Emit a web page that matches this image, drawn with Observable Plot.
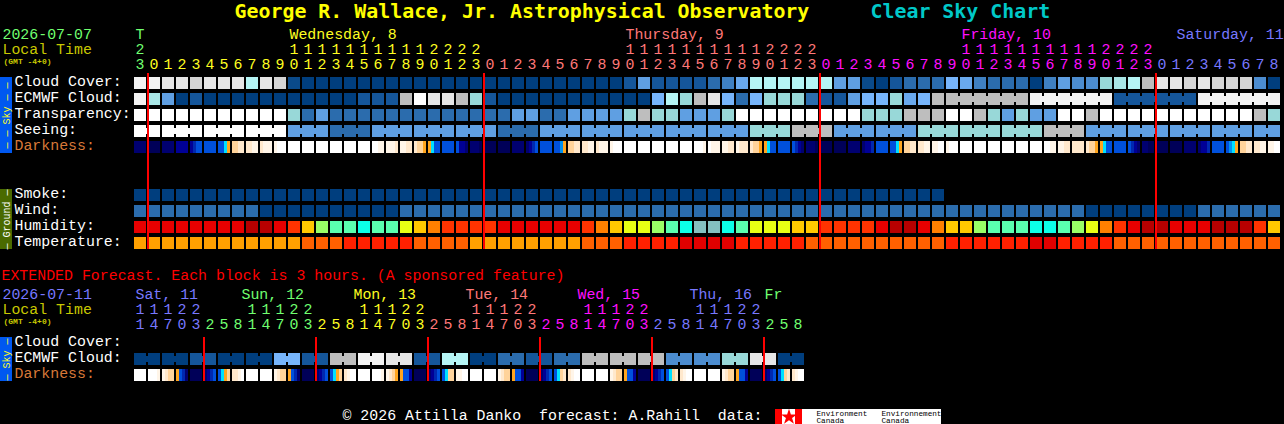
<!DOCTYPE html>
<html>
<head>
<meta charset="utf-8">
<style>
html,body{margin:0;padding:0;background:#000;overflow:hidden}
svg{display:block}
</style>
<script src="https://cdn.jsdelivr.net/npm/d3@7"></script>
<script src="https://cdn.jsdelivr.net/npm/@observablehq/plot@0.6"></script>
</head>
<body>
<div id="chart"></div>
<script>
// ---------- Data ----------
const hourLabels = ["23","0","1","2","3","4","5","6","7","8","9","10","11","12","13","14","15","16","17","18","19","20","21","22","23",
  "0","1","2","3","4","5","6","7","8","9","10","11","12","13","14","15","16","17","18","19","20","21","22","23",
  "0","1","2","3","4","5","6","7","8","9","10","11","12","13","14","15","16","17","18","19","20","21","22","23",
  "0","1","2","3","4","5","6","7","8"];
const cloudCover = [95,95,90,90,85,90,90,90,70,90,85,5,
  0,0,0,0,0,0,0,0,0,0,0,0,0,0,0,0,0,0,0,0,0,0,0,
  10,40,10,10,10,10,20,30,45,70,70,70,70,70,70,40,40,5,0,10,20,20,20,50,45,30,20,20,20,0,30,40,35,35,60,65,70,80,90,90,85,90,85,85,85,35,0];
const ecmwfCloud = [95,65,40,0,10,0,0,0,0,0,0,0,0,0,0,0,10,10,10,80,100,90,90,80,60,10,
  0,0,0,0,0,0,0,0,0,0,0,50,70,60,80,90,50,20,50,60,60,60,20,10,10,40,50,50,60,45,50,80,
  80,80,80,80,80,80,95,95,95,95,95,95,10,10,10,10,10,10,95,95,95,95,95,95];
const transparency = [100,100,100,100,100,100,100,100,100,100,100,60,20,40,20,20,20,20,20,20,20,20,20,20,20,20,20,40,40,20,20,40,40,40,40,60,80,60,60,40,40,40,60,
  100,100,100,100,100,100,100,100,100,60,60,60,80,80,80,100,100,80,60,40,60,40,40,100,100,80,
  100,100,100,100,100,100,100,100,100,100,100,80,60];
const seeing = [100,100,100,100,100,100,100,100,100,100,100,40,40,40,20,20,20,40,40,40,40,40,40,40,40,40,20,20,20,
  40,40,40,40,40,40,40,40,40,40,40,40,40,40,40,60,60,60,80,80,80,40,40,40,40,40,40,60,60,60,60,60,60,60,60,60,80,80,80,
  40,40,40,40,40,40,40,40,40,40,40,40,40,40];
const darkness = ["aaaa","bbbb","aaaa","9999","9877","7777","7754","3322","2211","2111","1000","0000","0000","0000","0000","0000","0000","0011","1112","1122","2334","4577","7777","799a","aaab",
  "bbbb","bbbb","aaaa","a987","7777","7764","3322","2211","2111","1000","0000","0000","0000","0000","0000","0001","0111","1122","1222","2334","4577","7777","789a","aaab",
  "bbbb","bbbb","aaaa","a998","7777","7754","3322","2211","1100","1000","0000","0000","0000","0000","0000","0000","0011","1122","2222","2334","4577","7777","789a","aabb",
  "bbbb","bbbb","aaaa","a998","7777","7654","3322","2211","1100"];
const smoke = [0,0,0,0,0,0,0,0,0,0,0,0,0,0,0,0,0,0,0,0,0,0,0,0,0,0,0,0,0,0,0,0,0,0,0,0,0,0,0,0,0,0,0,0,0,0,0,0,0,0,0,0,0,0,0,0,0,0];
const wind = [20,20,20,20,20,20,20,20,20,0,0,0,0,0,0,0,0,0,0,
  20,20,20,20,20,20,20,20,20,20,20,20,20,20,20,20,20,20,20,20,20,20,20,20,20,20,20,20,20,20,20,20,20,20,20,20,20,20,20,20,20,20,20,20,20,20,20,20,20,
  0,0,0,0,0,0,0,0,20,20,20,20,20,20];
const humidity = [85,85,85,85,85,85,85,85,95,95,85,75,65,55,50,50,45,50,50,60,65,70,75,75,75,75,85,85,85,85,85,85,75,70,65,60,60,55,50,45,40,40,45,50,60,60,60,65,65,75,75,75,75,85,95,95,85,70,65,65,55,50,50,50,45,45,50,55,60,70,75,85,95,95,85,85,85,95,95,95,75,65];
const temperature = [19,19,19,19,19,19,19,19,19,19,19,19,23,23,23,27,27,27,27,27,23,23,23,23,19,19,19,19,19,19,19,19,23,23,23,27,27,27,27,31,31,31,31,27,27,27,27,27,23,23,23,23,23,23,23,23,23,23,27,27,27,27,27,27,31,31,27,27,27,27,23,23,23,23,23,23,23,23,23,23,23,23];

const extHourLabels = ["11","14","17","20","23","2","5","8","11","14","17","20","23","2","5","8","11","14","17","20","23","2","5","8","11","14","17","20","23","2","5","8","11","14","17","20","23","2","5","8","11","14","17","20","23","2","5","8"];
const extEcmwfPairs = [0,0,10,0,0,50,10,80,95,90,10,70,0,20,10,20,80,80,80,35,35,60,90,0];
const extDarkness = ["0000","0001","1233","478a","bbbb","a987","7543","2210","0000","0000","1233","478a","bbbb","a987","7543","2100","0000","0001","1234","4779","bbbb","a987","7533","1100",
  "0000","0000","1233","4779","bbbb","a987","7532","2100","0000","0000","1233","4779","bbbb","a987","7532","2100","0000","0000","1233","4779","bbbb","a987","7532","2100"];

const dayHeads = [
  {px:135, text:"T", color:"#70ff70"},
  {px:289, text:"Wednesday, 8", color:"#ffff20"},
  {px:625, text:"Thursday, 9", color:"#ff7878"},
  {px:961, text:"Friday, 10", color:"#ff10ff"},
  {px:1176, text:"Saturday, 11", color:"#7878ff"}];
const hourColorStarts = [{from:0,color:"#70ff70"},{from:1,color:"#ffff20"},{from:25,color:"#ff7878"},{from:49,color:"#ff10ff"},{from:73,color:"#7878ff"}];
const extDayHeads = [
  {px:135,text:"Sat, 11",color:"#7878ff"},{px:241,text:"Sun, 12",color:"#70ff70"},{px:353,text:"Mon, 13",color:"#ffff20"},
  {px:465,text:"Tue, 14",color:"#ff7878"},{px:577,text:"Wed, 15",color:"#ff10ff"},{px:689,text:"Thu, 16",color:"#7878ff"},{px:764,text:"Fr",color:"#70ff70"}];
const extColorStarts = [{from:0,color:"#7878ff"},{from:5,color:"#70ff70"},{from:13,color:"#ffff20"},{from:21,color:"#ff7878"},{from:29,color:"#ff10ff"},{from:37,color:"#7878ff"},{from:45,color:"#70ff70"}];
const midnightCols = [1,25,49,73];
const extMidnightCols = [5,13,21,29,37,45];
const ecmwfJoined = [[58,63],[64,69],[70,75],[76,81]];

const cloudLevels = [0,5,10,20,30,35,40,45,50,60,65,70,80,85,90,95,100];
const cloudColors = ["#003e7e","#0a4a8a","#15569a","#2b6cad","#3f80c2","#4c8ccf","#5f9fe2","#69a9ee","#77b5fb","#98d8d8","#a8e6e6","#b5f5f5","#bebebe","#d4d4d4","#e6e6e6","#f3f3f3","#ffffff"];
const humidityLevels = [40,45,50,55,60,65,70,75,85,95];
const humidityColors = ["#84c0c0","#0cffe8","#5affaf","#99ff66","#e8ff14","#ffc800","#ff8000","#ff3300","#e80000","#b80000"];
const temperatureLevels = [19,23,27,31];
const temperatureColors = ["#ffa000","#ff6000","#ff2000","#e00000"];
const darknessLevels = ["0","1","2","3","4","5","6","7","8","9","a","b"];
const darknessColors = ["#ffffff","#fff5e8","#ffe8cc","#ffd39a","#ffa51e","#00e0ff","#0090f0","#0050dc","#0028b0","#000096","#000070","#000058"];

// ---------- Layout helpers: x is in block columns, y in block rows ----------
const X = px => (px - 134) / 14;
const Y = px => (px - 77) / 16;
const W = 12 / 14, H = 12 / 16;
const mono = "Liberation Mono";

const skyRows = [
  {row:0, values:cloudCover}, {row:1, values:ecmwfCloud}, {row:2, values:transparency}, {row:3, values:seeing},
  {row:7, values:smoke}, {row:8, values:wind}];
const cells = [];
for (const {row, values} of skyRows) values.forEach((v, col) => cells.push({col, row, key:"c"+v}));
humidity.forEach((v, col) => cells.push({col, row:9, key:"h"+v}));
temperature.forEach((v, col) => cells.push({col, row:10, key:"t"+v}));
const extRowEcmwf = Y(353), extRowDark = Y(369);
extEcmwfPairs.forEach((v, p) => { for (const col of [2*p, 2*p+1]) cells.push({col, row:extRowEcmwf, key:"c"+v}); });

const stripes = [];
const addStripes = (list, row) => list.forEach((s, col) => [...s].forEach((lv, k) => stripes.push({x1:col+k*3/14, x2:col+(k+1)*3/14, row, key:"d"+lv})));
addStripes(darkness, 4);
addStripes(extDarkness, extRowDark);

const bridges = [];
const addBridges = (first, last, row, key) => { for (let c = first; c < last; c++) bridges.push({col:c, row, key:key(c)}); };
addBridges(0, 1, 3, c => "c"+seeing[c]);
for (let s = 2; s < seeing.length; s += 3) addBridges(s, Math.min(s+2, seeing.length-1), 3, c => "c"+seeing[c]);
for (const [a,b] of ecmwfJoined) addBridges(a, b, 1, c => "c"+ecmwfCloud[c]);
extEcmwfPairs.forEach((v,p) => addBridges(2*p, 2*p+1, extRowEcmwf, () => "c"+v));

const colorOf = (starts, i) => starts.filter(s => s.from <= i).at(-1).color;
const digits = (labels, starts, pyTens, pyOnes) => labels.flatMap((h, col) => {
  const color = colorOf(starts, col), out = [{col, py:pyOnes, t:h.at(-1), color}];
  if (h.length === 2) out.push({col, py:pyTens, t:h[0], color});
  return out;
});
const allDigits = [...digits(hourLabels, hourColorStarts, 50, 65), ...digits(extHourLabels, extColorStarts, 310, 325)];

const rowLabels = [
  ["Cloud Cover:",82],["ECMWF Cloud:",98],["Transparency:",114],["Seeing:",130],
  ["Smoke:",194],["Wind:",210],["Humidity:",226],["Temperature:",242],
  ["Cloud Cover:",342],["ECMWF Cloud:",358]];
const orangeLabels = [["Darkness:",146],["Darkness:",374]];

const T = (data, opts) => Plot.text(data, {fontFamily:mono, textAnchor:"start", lineAnchor:"middle", fontSize:14.9, dy:-1, ...opts});
const one = (px, py, text, fill, extra={}) => T([0], {x:()=>X(px), y:()=>Y(py), text:()=>text, fill, ...extra});
const band = (px1, px2, py1, py2, fill) => Plot.rect([0], {x1:()=>X(px1), x2:()=>X(px2), y1:()=>Y(py1), y2:()=>Y(py2), fill});
const GMT = {fontSize:8, fontWeight:"bold"};
const side = (py, text, fill) => T([0], {x:()=>X(6), y:()=>Y(py), text:()=>text, fill, rotate:-90, textAnchor:"middle", fontSize:10, dy:0});
const logoText = (px, py, text) => one(px, py, text, "#000000", {fontSize:7.7, dy:0});

const plot = Plot.plot({
  width:1284, height:424, margin:0,
  style:{background:"#000"},
  x:{axis:null, domain:[X(0), X(1284)], range:[0,1284]},
  y:{axis:null, domain:[Y(0), Y(424)], range:[0,424]},
  color:{type:"ordinal",
    domain:[...cloudLevels.map(v=>"c"+v), ...humidityLevels.map(v=>"h"+v), ...temperatureLevels.map(v=>"t"+v), ...darknessLevels.map(v=>"d"+v)],
    range:[...cloudColors, ...humidityColors, ...temperatureColors, ...darknessColors]},
  marks:[
    // title
    one(234, 12, "George R. Wallace, Jr. Astrophysical Observatory", "#ffff00", {fontFamily:"DejaVu Sans Mono", fontSize:19.9, fontWeight:"bold"}),
    one(870, 12, "Clear Sky Chart", "#00c8c8", {fontFamily:"DejaVu Sans Mono", fontSize:19.9, fontWeight:"bold"}),
    // left header
    one(2, 35, "2026-07-07", "#70ff70"),
    one(2, 50, "Local Time", "#c8c800"),
    one(3, 62, "(GMT -4+0)", "#c8c800", GMT),
    one(1, 276, "EXTENDED Forecast. Each block is 3 hours. (A sponsored feature)", "#ff0000"),
    one(2, 295, "2026-07-11", "#7878ff"),
    one(2, 310, "Local Time", "#c8c800"),
    one(3, 322, "(GMT -4+0)", "#c8c800", GMT),
    // day names and hours
    T(dayHeads, {x:d=>X(d.px), y:()=>Y(35), text:"text", fill:"color"}),
    T(extDayHeads, {x:d=>X(d.px), y:()=>Y(295), text:"text", fill:"color"}),
    T(allDigits, {x:d=>d.col+W/2-0.5/14, y:d=>Y(d.py), text:"t", fill:"color", textAnchor:"middle"}),
    // row labels
    T(rowLabels, {x:()=>X(14), y:d=>Y(d[1]), text:d=>d[0], fill:"#ffffff"}),
    T(orangeLabels, {x:()=>X(14), y:d=>Y(d[1]), text:d=>d[0], fill:"#d87838"}),
    // side bars
    band(0, 12, 77, 153, "#0058f0"),
    band(0, 12, 189, 249, "#4a6a00"),
    band(0, 12, 337, 381, "#0058f0"),
    side(115, "— — Sky — —", "#ffff20"),
    side(219, "— Ground —", "#ffffff"),
    side(359, "— Sky —", "#ffff20"),
    // blocks
    Plot.rect(cells, {x1:"col", x2:d=>d.col+W, y1:"row", y2:d=>d.row+H, fill:"key"}),
    Plot.rect(bridges, {x1:d=>d.col+W, x2:d=>d.col+1, y1:d=>d.row+3/16, y2:d=>d.row+9/16, fill:"key"}),
    Plot.rect(stripes, {x1:"x1", x2:"x2", y1:"row", y2:d=>d.row+H, fill:"key"}),
    // midnight lines
    Plot.rect(midnightCols, {x1:d=>d-1/14, x2:d=>d+1/14, y1:()=>Y(73), y2:()=>Y(249), fill:"#ff0000"}),
    Plot.rect(extMidnightCols, {x1:d=>d-1/14, x2:d=>d+1/14, y1:()=>Y(337), y2:()=>Y(381), fill:"#ff0000"}),
    // footer
    one(342, 416, "© 2026 Attilla Danko  forecast: A.Rahill  data:", "#ffffff"),
    band(775, 941, 409, 424, "#ffffff"),
    band(775, 782, 409, 424, "#ff0000"),
    band(795, 802, 409, 424, "#ff0000"),
    Plot.dot([0], {x:()=>X(788.5), y:()=>Y(416.5), symbol:"star", r:5, fill:"#ff0000"}),
    logoText(816, 413, "Environment"),
    logoText(816, 420, "Canada"),
    logoText(881, 413, "Environnement"),
    logoText(881, 420, "Canada")
  ]
});
document.getElementById("chart").appendChild(plot);
</script>
</body>
</html>
